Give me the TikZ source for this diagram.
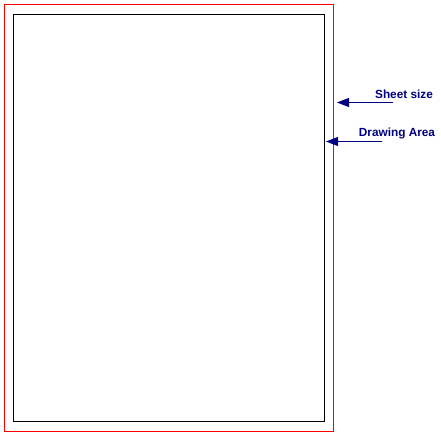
\documentclass[tikz,border=0pt]{standalone}
\usepackage{fontspec}
\setmainfont{Liberation Sans}
\usetikzlibrary{arrows.meta}
\definecolor{navy}{RGB}{0,0,128}
\begin{document}
\begin{tikzpicture}[x=1pt,y=-1pt,
  frame/.style={draw,line width=1pt,inner sep=0pt,outer sep=0pt},
  lbl/.style={text=navy,font=\fontsize{11.8}{13}\selectfont\bfseries,inner sep=0pt},
  pointer/.style={draw=navy,line width=1pt,-{Triangle[length=12pt,width=9pt]}}]
\useasboundingbox (0,0) rectangle (441,436);
\node[frame,draw=red,minimum width=329pt,minimum height=427pt] (sheet) at (169,218) {};
\node[frame,draw=black,minimum width=311pt,minimum height=407pt] (area) at (169,218) {};
\node[lbl] (ts) at (404,94) {Sheet size};
\node[lbl] (ta) at (397,133.5) {Drawing Area};
\coordinate (s0) at (393,102.5);
\coordinate (s1) at (337,102.5);
\coordinate (a0) at (382,141.5);
\coordinate (a1) at (326,141.5);
\draw[pointer] (s0) -- (s1);
\draw[pointer] (a0) -- (a1);
\end{tikzpicture}
\end{document}
